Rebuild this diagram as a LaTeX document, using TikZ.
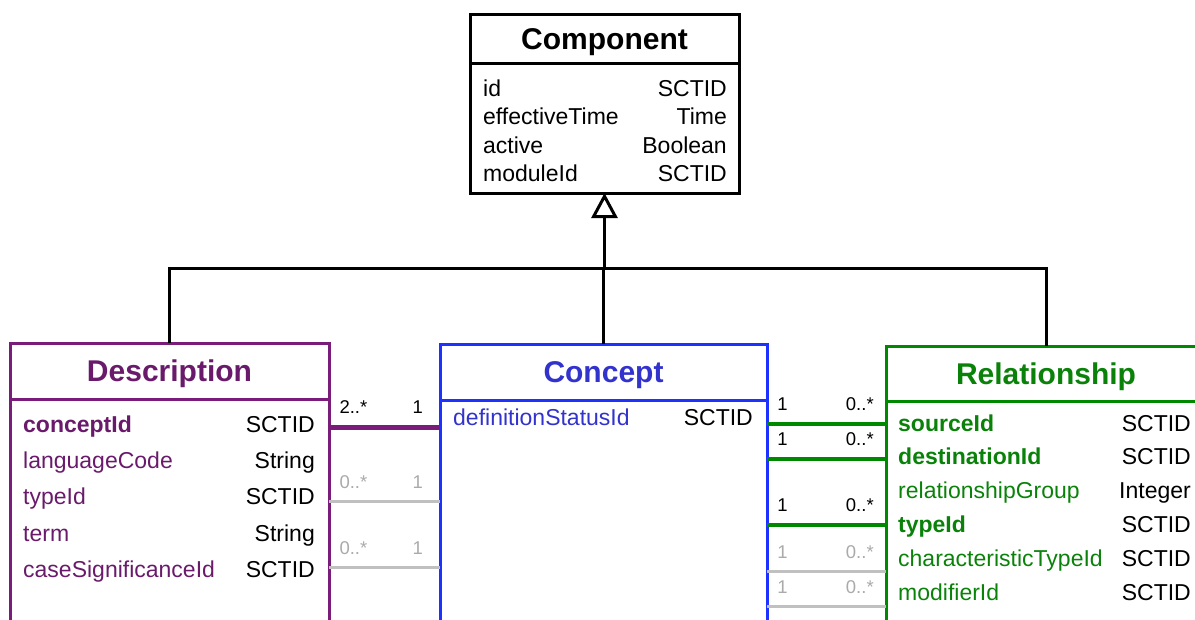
\documentclass[tikz,border=0pt]{standalone}
\usepackage{fontspec}
\setmainfont{Liberation Sans}
\usetikzlibrary{arrows.meta}

\definecolor{descline}{RGB}{122,28,122}
\definecolor{desctext}{RGB}{106,26,106}
\definecolor{conline}{RGB}{30,50,255}
\definecolor{context}{RGB}{50,50,205}
\definecolor{relline}{RGB}{0,136,0}
\definecolor{reltext}{RGB}{10,130,10}
\definecolor{faintline}{RGB}{192,192,192}
\definecolor{fainttext}{RGB}{170,170,170}

\tikzstyle{classhead}=[draw,line width=3pt,inner sep=0pt,outer sep=0pt,text height=21.5pt,text depth=0pt,font=\fontsize{30}{36}\selectfont\bfseries]
\tikzstyle{classbody}=[draw,line width=3pt,inner sep=0pt,outer sep=0pt,anchor=north]
\tikzstyle{attr}=[anchor=base west,inner sep=0pt,font=\fontsize{23}{28}\selectfont]
\tikzstyle{attrtype}=[anchor=base east,inner sep=0pt,font=\fontsize{23}{28}\selectfont]
\tikzstyle{mult}=[above=11pt,inner sep=0pt,font=\fontsize{18.5}{22}\selectfont]
\tikzstyle{genline}=[draw,line width=3pt]
\tikzstyle{purpleline}=[draw=descline,line width=5pt]
\tikzstyle{greenline}=[draw=relline,line width=4.5pt]
\tikzstyle{greyline}=[draw=faintline,line width=3pt]

\begin{document}
\begin{tikzpicture}[x=1pt,y=-1pt]
	\useasboundingbox (0,0) rectangle (1195,619);

	% First we draw the class boxes
	\node[classhead, minimum width=269pt, minimum height=49pt] (comp) at (604.5,38.5) {Component};
	\node[classbody, minimum width=269pt, minimum height=130pt] (compbody) at (comp.south) {};

	\node[classhead, draw=descline, text=desctext, minimum width=319pt, minimum height=56pt] (desc) at (169.5,371) {Description};
	\node[classbody, draw=descline, minimum width=319pt, minimum height=260pt] (descbody) at (desc.south) {};

	\node[classhead, draw=conline, text=context, minimum width=327pt, minimum height=56pt] (con) at (603.5,372) {Concept};
	\node[classbody, draw=conline, minimum width=327pt, minimum height=260pt] (conbody) at (con.south) {};

	\node[classhead, draw=relline, text=reltext, minimum width=320pt, minimum height=55pt] (rel) at (1046,373.5) {Relationship};
	\node[classbody, draw=relline, minimum width=320pt, minimum height=260pt] (relbody) at (rel.south) {};

	% Then the attributes of each class
	\foreach \y/\name/\type [count=\i] in {96/id/SCTID, 124.5/effectiveTime/Time, 153/active/Boolean, 181.5/moduleId/SCTID}{
		\node[attr] (compn\i) at (483,\y) {\name};
		\node[attrtype] (compt\i) at (727,\y) {\type};
	}

	\foreach \y/\name/\type [count=\i] in {432/{\textbf{conceptId}}/SCTID, 468/languageCode/String, 504.5/typeId/SCTID,
											541/term/String, 577/caseSignificanceId/SCTID}{
		\node[attr, text=desctext] (descn\i) at (23,\y) {\name};
		\node[attrtype] (desct\i) at (315,\y) {\type};
	}

	\node[attr, text=context] (conn1) at (453,425) {definitionStatusId};
	\node[attrtype] (cont1) at (753,425) {SCTID};

	\foreach \y/\name/\type [count=\i] in {431/{\textbf{sourceId}}/SCTID, 464.8/{\textbf{destinationId}}/SCTID, 498.6/relationshipGroup/Integer,
											532.4/{\textbf{typeId}}/SCTID, 566.2/characteristicTypeId/SCTID, 600/modifierId/SCTID}{
		\node[attr, text=reltext] (reln\i) at (898,\y) {\name};
		\node[attrtype] (relt\i) at (1191,\y) {\type};
	}

	% Generalisation to Component
	\coordinate (hub) at (604.5,268);
	\path[genline] (desc.north) |- (hub);
	\path[genline] (rel.north) |- (hub);
	\path[genline] (con.north) -- (con.north |- hub);
	\path[genline, -{Triangle[open, length=25pt, width=26pt]}] (hub) -- (compbody.south);

	% Associations with multiplicities
	\foreach \y/\style/\lab/\many [count=\i] in {427/purpleline/black/{2..*}, 501/greyline/fainttext/{0..*}, 567/greyline/fainttext/{0..*}}{
		\coordinate (dc\i) at (0,\y);
		\path[\style] (descbody.east |- dc\i) -- node[mult, text=\lab, pos=.22] {\many} node[mult, text=\lab, pos=.8] {1} (conbody.west |- dc\i);
	}

	\foreach \y/\style/\lab [count=\i] in {424/greenline/black, 459/greenline/black, 525/greenline/black,
											571/greyline/fainttext, 606/greyline/fainttext}{
		\coordinate (cr\i) at (0,\y);
		\path[\style] (conbody.east |- cr\i) -- node[mult, text=\lab, pos=.13] {1} node[mult, text=\lab, pos=.78] {0..*} (relbody.west |- cr\i);
	}
\end{tikzpicture}
\end{document}
